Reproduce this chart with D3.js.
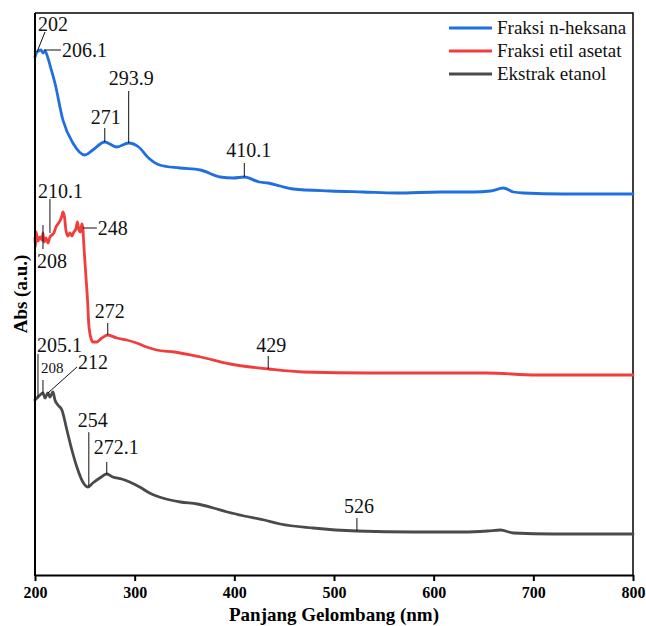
<!DOCTYPE html>
<html>
<head>
<meta charset="utf-8">
<script src="https://cdn.jsdelivr.net/npm/d3@7/dist/d3.min.js"></script>
<style>
  html, body { margin: 0; padding: 0; background: #fff; }
  svg { display: block; }
  svg text { font-family: "Liberation Serif", Tinos, "Times New Roman", Times, serif; }
</style>
</head>
<body>
<svg id="chart" width="646" height="626"></svg>
<script>
// ---------- DATA ----------
const xTicks = [200, 300, 400, 500, 600, 700, 800];
const seriesNames = ["Fraksi n-heksana", "Fraksi etil asetat", "Ekstrak etanol"];

const heksanaNm  = [200, 202, 206, 208, 210, 212, 215, 220, 228, 238, 250, 258, 270, 282, 294, 304, 314, 325, 345, 366, 386, 399, 410, 425, 434, 446, 459, 496, 529, 563, 607, 640, 657, 670, 680, 690, 730, 800];
const heksanaAbs = [5.17, 5.22, 5.24, 5.21, 5.23, 5.19, 5.09, 4.91, 4.54, 4.31, 4.19, 4.24, 4.32, 4.27, 4.31, 4.27, 4.16, 4.09, 4.06, 4.04, 3.97, 3.96, 3.97, 3.92, 3.91, 3.88, 3.85, 3.83, 3.82, 3.81, 3.82, 3.82, 3.83, 3.86, 3.82, 3.81, 3.80, 3.80];

const etilNm  = [200, 200.5, 201, 203, 205, 207, 208, 209, 211, 213, 215, 217, 219, 221, 223, 225, 227, 228, 229.6, 231, 233, 235, 237, 239, 241, 242.6, 244, 245.6, 247, 248, 249, 251, 252.7, 254, 255, 256.7, 258, 262, 267, 273, 282, 292, 302, 312, 322, 340, 366, 396, 416, 434, 469, 536, 653, 703, 736, 800];
const etilAbs = [3.36, 3.27, 3.42, 3.33, 3.37, 3.34, 3.41, 3.32, 3.36, 3.31, 3.37, 3.39, 3.41, 3.47, 3.50, 3.53, 3.58, 3.62, 3.57, 3.44, 3.38, 3.41, 3.38, 3.42, 3.45, 3.52, 3.44, 3.42, 3.50, 3.46, 3.29, 2.99, 2.74, 2.49, 2.41, 2.34, 2.32, 2.32, 2.36, 2.39, 2.36, 2.34, 2.31, 2.27, 2.24, 2.22, 2.17, 2.10, 2.07, 2.05, 2.02, 2.01, 2.01, 1.99, 1.99, 1.99];

const etanolNm  = [200, 202, 205, 208, 210, 213, 215, 218, 220, 223, 227, 232, 237, 242, 248, 253, 258, 265, 272, 278, 287, 295, 305, 315, 328, 346, 363, 379, 393, 410, 430, 446, 479, 523, 580, 630, 654, 667, 680, 720, 800];
const etanolAbs = [1.74, 1.76, 1.79, 1.81, 1.76, 1.81, 1.77, 1.82, 1.74, 1.69, 1.64, 1.44, 1.24, 1.07, 0.92, 0.87, 0.91, 0.96, 1.00, 0.97, 0.95, 0.92, 0.87, 0.81, 0.76, 0.72, 0.70, 0.66, 0.62, 0.58, 0.54, 0.50, 0.46, 0.43, 0.42, 0.42, 0.43, 0.44, 0.41, 0.40, 0.40];

// peak annotations: series index, wavelength at which leader touches curve, label
const peakSeries = [0, 0, 0, 0, 0, 1, 1, 1, 1, 1, 2, 2, 2, 2, 2, 2];
const peakNm     = [202, 206, 270, 294, 410, 215, 208, 248, 273, 434, 203, 208, 213, 254, 272, 523];
const peakLabels = ["202", "206.1", "271", "293.9", "410.1", "210.1", "208", "248", "272", "429", "205.1", "208", "212", "254", "272.1", "526"];

// ---------- LAYOUT / STYLE ----------
const plot = { left: 35, right: 633, top: 13, bottom: 575 };
const colors = ["#1f6fe0", "#f23d3d", "#4a4a4a"];

// leader-line end offsets and text offsets (pixels, relative to curve point)
const peakStyle = [
  { l: [[0, 0], [8, -20]], t: [1, -21], a: "start" },
  { l: [[3, 0], [20, 0]], t: [21, 7], a: "start" },
  { l: [[0, 0], [0, -14]], t: [1, -18], a: "middle" },
  { l: [[0, 0], [0, -52]], t: [-20, -58], a: "start" },
  { l: [[0, 0], [0, -14]], t: [-18, -20], a: "start" },
  { l: [[0, -4], [0, -38]], t: [-12, -39], a: "start" },
  { l: [[0, -8], [0, 16]], t: [-6, 35], a: "start" },
  { l: [[0, 0], [14, 0]], t: [15, 7], a: "start" },
  { l: [[0, 0], [0, -12]], t: [2, -17], a: "middle" },
  { l: [[0, 0], [0, -13]], t: [3, -17], a: "middle" },
  { l: [[0, 0], [0, -43]], t: [-1, -45], a: "start" },
  { l: [[0, 0], [0, -13]], t: [-2, -20], a: "start", fs: 15 },
  { l: [[0, 0], [29, -26]], t: [30, -24], a: "start" },
  { l: [[0, 0], [0, -54]], t: [-11, -59], a: "start" },
  { l: [[0, 0], [0, -12]], t: [-13, -20], a: "start" },
  { l: [[0, 0], [0, -13]], t: [-13, -18], a: "start" }
];

const svg = d3.select("#chart");

const x = d3.scaleLinear().domain([200, 800]).range([plot.left, plot.right]);
const y = d3.scaleLinear().domain([0, 5.62]).range([574, 12]);

const series = [
  heksanaNm.map((d, i) => ({ nm: d, v: heksanaAbs[i] })),
  etilNm.map((d, i) => ({ nm: d, v: etilAbs[i] })),
  etanolNm.map((d, i) => ({ nm: d, v: etanolAbs[i] }))
];

// frame (top & right)
svg.append("path")
  .attr("d", `M${plot.left},${plot.top}H${plot.right}V${plot.bottom}`)
  .attr("fill", "none").attr("stroke", "#000").attr("stroke-width", 1.5);

// lines
const line = d3.line().x(d => x(d.nm)).y(d => y(d.v)).curve(d3.curveMonotoneX);
series.forEach((s, i) => {
  svg.append("path").datum(s)
    .attr("d", line)
    .attr("fill", "none")
    .attr("stroke", colors[i])
    .attr("stroke-width", 2.8)
    .attr("stroke-linejoin", "round")
    .attr("stroke-linecap", "round");
});

// annotations
function valueAt(s, nm) {
  const i = d3.bisector(d => d.nm).left(s, nm);
  if (i <= 0) return s[0].v;
  if (i >= s.length) return s[s.length - 1].v;
  const a = s[i - 1], b = s[i];
  const t = (nm - a.nm) / (b.nm - a.nm);
  return a.v + t * (b.v - a.v);
}
const ann = svg.append("g");
peakLabels.forEach((lab, k) => {
  const s = series[peakSeries[k]];
  const px = x(peakNm[k]), py = y(valueAt(s, peakNm[k]));
  const st = peakStyle[k];
  ann.append("line")
    .attr("x1", px + st.l[0][0]).attr("y1", py + st.l[0][1])
    .attr("x2", px + st.l[1][0]).attr("y2", py + st.l[1][1])
    .attr("stroke", "#111").attr("stroke-width", 1);
  ann.append("text")
    .attr("x", px + st.t[0]).attr("y", py + st.t[1])
    .attr("text-anchor", st.a)
    .style("font-size", (st.fs || 20) + "px")
    .attr("fill", "#111")
    .text(lab);
});

// x axis
const xAxis = d3.axisBottom(x).tickValues(xTicks).tickSize(6).tickSizeOuter(0).tickPadding(6);
const gx = svg.append("g").attr("transform", `translate(0,${plot.bottom})`).call(xAxis);
gx.attr("font-family", null).attr("font-size", null);
gx.select(".domain").attr("stroke", "#000").attr("stroke-width", 2);
gx.selectAll(".tick line").attr("stroke", "#000").attr("stroke-width", 2);
gx.selectAll(".tick text")
  .style("font-weight", "bold").style("font-size", "16px").attr("fill", "#000");

// y axis line (no ticks)
const yAxis = d3.axisLeft(y).tickValues([]).tickSize(0).tickSizeOuter(0);
const gy = svg.append("g").attr("transform", `translate(${plot.left},0)`).call(yAxis);
gy.select(".domain").attr("stroke", "#000").attr("stroke-width", 2)
  .attr("d", `M0,${plot.top}V${plot.bottom + 1}`);

// axis titles
svg.append("text")
  .attr("x", (plot.left + plot.right) / 2).attr("y", 621)
  .attr("text-anchor", "middle")
  .style("font-weight", "bold").style("font-size", "19px")
  .text("Panjang Gelombang (nm)");
svg.append("text")
  .attr("transform", `translate(27,${(plot.top + plot.bottom) / 2}) rotate(-90)`)
  .attr("text-anchor", "middle")
  .style("font-weight", "bold").style("font-size", "19px")
  .text("Abs (a.u.)");

// legend
const legend = svg.append("g");
seriesNames.forEach((name, i) => {
  const ly = 28 + i * 23;
  legend.append("line")
    .attr("x1", 449).attr("x2", 492).attr("y1", ly).attr("y2", ly)
    .attr("stroke", colors[i]).attr("stroke-width", 3);
  legend.append("text")
    .attr("x", 497).attr("y", ly + 6)
    .style("font-size", "19px").attr("fill", "#111")
    .text(name);
});
</script>
</body>
</html>
